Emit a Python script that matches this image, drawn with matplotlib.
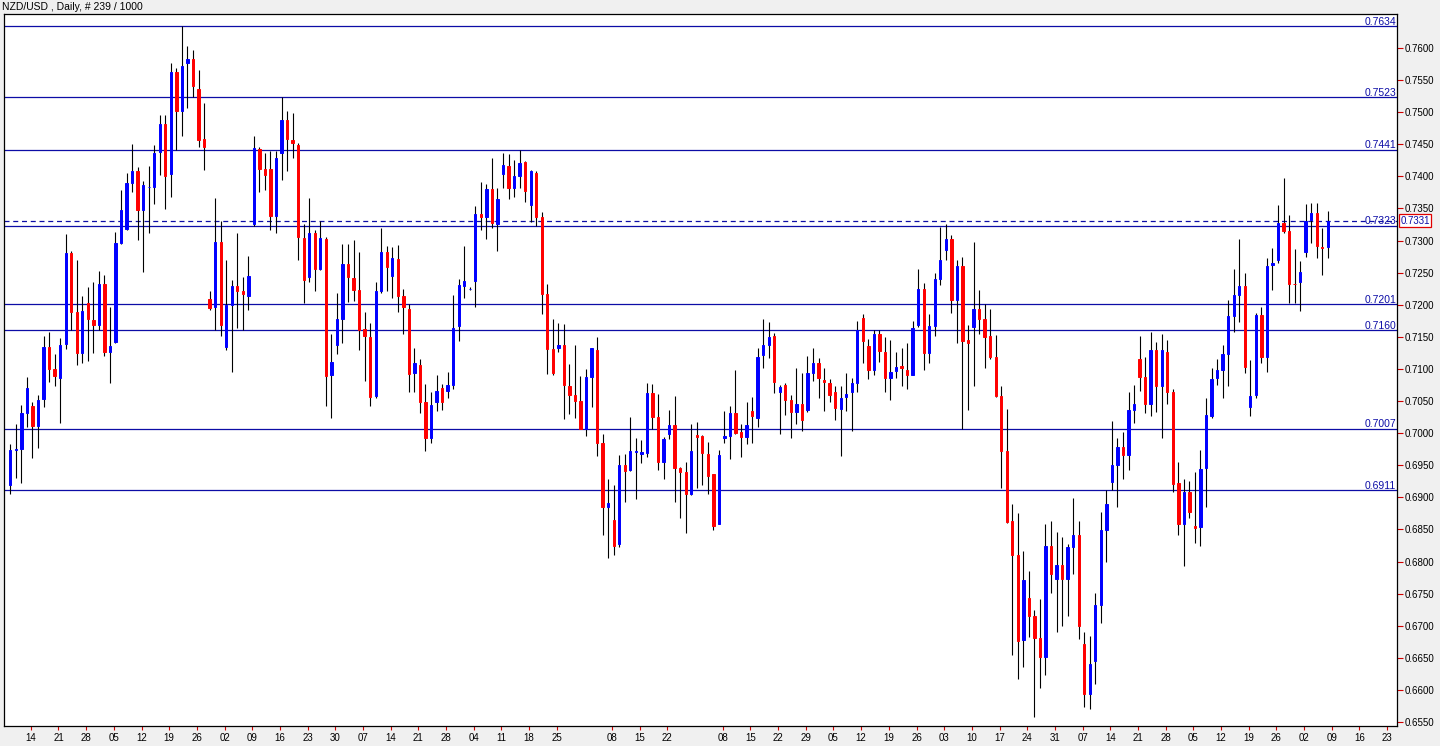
import matplotlib.pyplot as plt
import matplotlib.transforms as mtransforms
import numpy as np

# daily candles (oldest first)
opens = [0.6920, 0.6973, 0.6976, 0.7031, 0.7042, 0.7011, 0.7053, 0.7134, 0.7100, 0.7086,
         0.7139, 0.7280, 0.7188, 0.7125, 0.7203, 0.7176, 0.7168, 0.7232, 0.7127, 0.7142,
         0.7296, 0.7318, 0.7390, 0.7408, 0.7348, 0.7383, 0.7384, 0.7438, 0.7481, 0.7403,
         0.7563, 0.7502, 0.7576, 0.7582, 0.7536, 0.7458, 0.7209, 0.7196, 0.7297, 0.7134,
         0.7200, 0.7229, 0.7221, 0.7214, 0.7326, 0.7442, 0.7412, 0.7412, 0.7338, 0.7436,
         0.7488, 0.7457, 0.7449, 0.7304, 0.7243, 0.7312, 0.7256, 0.7303, 0.7090, 0.7138,
         0.7177, 0.7264, 0.7242, 0.7223, 0.7162, 0.7149, 0.7058, 0.7221, 0.7282, 0.7244,
         0.7271, 0.7213, 0.7194, 0.7094, 0.7106, 0.7048, 0.6992, 0.7048, 0.7070, 0.7066,
         0.7075, 0.7167, 0.7229, 0.7225, 0.7237, 0.7342, 0.7336, 0.7380, 0.7325, 0.7403,
         0.7416, 0.7382, 0.7401, 0.7422, 0.7355, 0.7405, 0.7337, 0.7216, 0.7131, 0.7132,
         0.7138, 0.7074, 0.7059, 0.7050, 0.7007, 0.7087, 0.7130, 0.6985, 0.6885, 0.6864,
         0.6827, 0.6950, 0.6942, 0.6971, 0.6967, 0.6969, 0.7062, 0.7025, 0.6955, 0.6999,
         0.7013, 0.6946, 0.6940, 0.6905, 0.6997, 0.6995, 0.6968, 0.6936, 0.6859, 0.6993,
         0.6996, 0.7032, 0.7002, 0.6994, 0.7035, 0.7024, 0.7121, 0.7137, 0.7151, 0.7064,
         0.7075, 0.7051, 0.7033, 0.7046, 0.7036, 0.7093, 0.7110, 0.7083, 0.7078, 0.7064,
         0.7038, 0.7057, 0.7064, 0.7078, 0.7180, 0.7135, 0.7099, 0.7155, 0.7127, 0.7086,
         0.7097, 0.7104, 0.7099, 0.7091, 0.7169, 0.7224, 0.7125, 0.7167, 0.7240, 0.7285,
         0.7302, 0.7208, 0.7261, 0.7145, 0.7166, 0.7193, 0.7177, 0.7151, 0.7119, 0.7058,
         0.6972, 0.6863, 0.6810, 0.6678, 0.6744, 0.6715, 0.6681, 0.6652, 0.6824, 0.6773,
         0.6795, 0.6773, 0.6822, 0.6841, 0.6672, 0.6594, 0.6645, 0.6732, 0.6849, 0.6924,
         0.6950, 0.6978, 0.6966, 0.7036, 0.7115, 0.7088, 0.7045, 0.7130, 0.7073, 0.7127,
         0.7064, 0.6922, 0.6859, 0.6909, 0.6855, 0.6854, 0.6946, 0.7027, 0.7086, 0.7098,
         0.7123, 0.7183, 0.7215, 0.7229, 0.7041, 0.7059, 0.7184, 0.7118, 0.7262, 0.7270,
         0.7327, 0.7315, 0.7233, 0.7235, 0.7282, 0.7332, 0.7343, 0.7290, 0.7290]
highs = [0.6983, 0.7015, 0.7044, 0.7087, 0.7049, 0.7060, 0.7151, 0.7158, 0.7124, 0.7148,
         0.7310, 0.7283, 0.7270, 0.7214, 0.7227, 0.7236, 0.7253, 0.7246, 0.7196, 0.7313,
         0.7378, 0.7405, 0.7451, 0.7415, 0.7393, 0.7416, 0.7448, 0.7495, 0.7495, 0.7576,
         0.7568, 0.7634, 0.7603, 0.7597, 0.7565, 0.7514, 0.7221, 0.7366, 0.7330, 0.7269,
         0.7239, 0.7311, 0.7243, 0.7276, 0.7462, 0.7446, 0.7437, 0.7440, 0.7440, 0.7523,
         0.7502, 0.7499, 0.7452, 0.7326, 0.7366, 0.7316, 0.7330, 0.7305, 0.7155, 0.7218,
         0.7294, 0.7295, 0.7301, 0.7282, 0.7188, 0.7172, 0.7235, 0.7320, 0.7291, 0.7290,
         0.7293, 0.7225, 0.7201, 0.7132, 0.7115, 0.7076, 0.7064, 0.7090, 0.7076, 0.7095,
         0.7215, 0.7240, 0.7291, 0.7227, 0.7354, 0.7391, 0.7388, 0.7429, 0.7381, 0.7437,
         0.7434, 0.7425, 0.7441, 0.7424, 0.7410, 0.7408, 0.7345, 0.7233, 0.7177, 0.7172,
         0.7170, 0.7107, 0.7138, 0.7089, 0.7100, 0.7133, 0.7149, 0.6998, 0.6929, 0.6919,
         0.6966, 0.6967, 0.7025, 0.6993, 0.6989, 0.7078, 0.7077, 0.7061, 0.6994, 0.7036,
         0.7058, 0.6947, 0.6955, 0.7014, 0.7017, 0.6997, 0.6986, 0.6937, 0.6974, 0.7035,
         0.7042, 0.7098, 0.7015, 0.7048, 0.7056, 0.7132, 0.7177, 0.7173, 0.7156, 0.7075,
         0.7078, 0.7059, 0.7102, 0.7093, 0.7120, 0.7133, 0.7117, 0.7102, 0.7084, 0.7073,
         0.7074, 0.7094, 0.7086, 0.7174, 0.7186, 0.7146, 0.7161, 0.7161, 0.7150, 0.7145,
         0.7127, 0.7133, 0.7141, 0.7174, 0.7256, 0.7234, 0.7185, 0.7250, 0.7321, 0.7325,
         0.7309, 0.7269, 0.7274, 0.7168, 0.7297, 0.7223, 0.7201, 0.7194, 0.7153, 0.7073,
         0.7038, 0.6890, 0.6875, 0.6816, 0.6785, 0.6725, 0.6742, 0.6858, 0.6863, 0.6846,
         0.6838, 0.6828, 0.6899, 0.6863, 0.6690, 0.6684, 0.6751, 0.6877, 0.6911, 0.7019,
         0.6992, 0.7002, 0.7064, 0.7075, 0.7151, 0.7118, 0.7158, 0.7142, 0.7155, 0.7145,
         0.7068, 0.6955, 0.6928, 0.6925, 0.6939, 0.6974, 0.7054, 0.7102, 0.7116, 0.7138,
         0.7207, 0.7255, 0.7303, 0.7250, 0.7114, 0.7187, 0.7196, 0.7272, 0.7289, 0.7355,
         0.7397, 0.7339, 0.7287, 0.7268, 0.7357, 0.7358, 0.7358, 0.7319, 0.7346]
lows = [0.6906, 0.6930, 0.6923, 0.7010, 0.6962, 0.6977, 0.7040, 0.7080, 0.7073, 0.7016,
        0.7131, 0.7161, 0.7106, 0.7110, 0.7113, 0.7125, 0.7160, 0.7120, 0.7078, 0.7141,
        0.7294, 0.7317, 0.7375, 0.7301, 0.7251, 0.7311, 0.7357, 0.7402, 0.7349, 0.7367,
        0.7441, 0.7463, 0.7506, 0.7523, 0.7446, 0.7410, 0.7192, 0.7160, 0.7152, 0.7130,
        0.7095, 0.7164, 0.7160, 0.7192, 0.7323, 0.7375, 0.7378, 0.7317, 0.7312, 0.7394,
        0.7408, 0.7428, 0.7270, 0.7203, 0.7235, 0.7221, 0.7254, 0.7043, 0.7023, 0.7123,
        0.7141, 0.7205, 0.7206, 0.7130, 0.7081, 0.7043, 0.7055, 0.7218, 0.7221, 0.7211,
        0.7188, 0.7155, 0.7064, 0.7064, 0.7032, 0.6972, 0.6984, 0.7035, 0.7036, 0.7055,
        0.7068, 0.7144, 0.7210, 0.7223, 0.7196, 0.7317, 0.7302, 0.7320, 0.7284, 0.7382,
        0.7364, 0.7367, 0.7381, 0.7360, 0.7329, 0.7322, 0.7185, 0.7092, 0.7090, 0.7127,
        0.7022, 0.7030, 0.7023, 0.7006, 0.6995, 0.7041, 0.6964, 0.6841, 0.6806, 0.6811,
        0.6823, 0.6893, 0.6941, 0.6898, 0.6953, 0.6963, 0.7006, 0.6943, 0.6929, 0.6991,
        0.6893, 0.6868, 0.6845, 0.6903, 0.6914, 0.6920, 0.6906, 0.6849, 0.6858, 0.6984,
        0.6959, 0.6998, 0.6963, 0.6983, 0.6984, 0.7010, 0.7101, 0.7117, 0.7063, 0.6999,
        0.7028, 0.6992, 0.7015, 0.7003, 0.7033, 0.7081, 0.7055, 0.7034, 0.7048, 0.7021,
        0.6965, 0.7034, 0.7003, 0.7064, 0.7109, 0.7084, 0.7091, 0.7111, 0.7064, 0.7052,
        0.7086, 0.7073, 0.7068, 0.7090, 0.7166, 0.7098, 0.7109, 0.7151, 0.7231, 0.7269,
        0.7187, 0.7141, 0.7007, 0.7036, 0.7074, 0.7154, 0.7102, 0.7115, 0.7057, 0.6914,
        0.6860, 0.6654, 0.6617, 0.6636, 0.6682, 0.6558, 0.6603, 0.6623, 0.6751, 0.6690,
        0.6699, 0.6716, 0.6781, 0.6680, 0.6573, 0.6571, 0.6610, 0.6704, 0.6799, 0.6911,
        0.6885, 0.6929, 0.6942, 0.7016, 0.7066, 0.7031, 0.7026, 0.7033, 0.6992, 0.7046,
        0.6908, 0.6842, 0.6793, 0.6868, 0.6829, 0.6824, 0.6885, 0.7024, 0.7075, 0.7054,
        0.7074, 0.7157, 0.7173, 0.7093, 0.7027, 0.7054, 0.7109, 0.7095, 0.7223, 0.7265,
        0.7312, 0.7203, 0.7203, 0.7191, 0.7274, 0.7296, 0.7272, 0.7246, 0.7272]
closes = [0.6974, 0.6976, 0.7031, 0.7070, 0.7011, 0.7052, 0.7134, 0.7100, 0.7089, 0.7137,
          0.7280, 0.7188, 0.7125, 0.7190, 0.7177, 0.7168, 0.7232, 0.7127, 0.7135, 0.7296,
          0.7348, 0.7389, 0.7408, 0.7348, 0.7386, 0.7384, 0.7437, 0.7481, 0.7401, 0.7563,
          0.7501, 0.7572, 0.7582, 0.7541, 0.7457, 0.7446, 0.7195, 0.7297, 0.7169, 0.7200,
          0.7229, 0.7222, 0.7216, 0.7245, 0.7444, 0.7412, 0.7402, 0.7338, 0.7428, 0.7488,
          0.7458, 0.7452, 0.7306, 0.7239, 0.7312, 0.7255, 0.7304, 0.7089, 0.7111, 0.7177,
          0.7264, 0.7243, 0.7223, 0.7160, 0.7152, 0.7057, 0.7221, 0.7282, 0.7259, 0.7272,
          0.7213, 0.7196, 0.7092, 0.7109, 0.7048, 0.6992, 0.7044, 0.7065, 0.7049, 0.7075,
          0.7163, 0.7230, 0.7237, 0.7225, 0.7342, 0.7336, 0.7380, 0.7327, 0.7365, 0.7417,
          0.7381, 0.7401, 0.7421, 0.7377, 0.7408, 0.7337, 0.7216, 0.7131, 0.7093, 0.7138,
          0.7075, 0.7059, 0.7050, 0.7007, 0.7087, 0.7132, 0.6985, 0.6885, 0.6892, 0.6824,
          0.6950, 0.6941, 0.6972, 0.6972, 0.6970, 0.7062, 0.7025, 0.6955, 0.6991, 0.7013,
          0.6946, 0.6939, 0.6906, 0.6972, 0.6994, 0.6969, 0.6933, 0.6856, 0.6966, 0.6996,
          0.7032, 0.7000, 0.6994, 0.7012, 0.7026, 0.7119, 0.7137, 0.7149, 0.7080, 0.7072,
          0.7052, 0.7033, 0.7046, 0.7021, 0.7093, 0.7109, 0.7086, 0.7080, 0.7060, 0.7039,
          0.7055, 0.7061, 0.7078, 0.7160, 0.7143, 0.7098, 0.7155, 0.7128, 0.7086, 0.7096,
          0.7103, 0.7102, 0.7091, 0.7164, 0.7224, 0.7125, 0.7167, 0.7240, 0.7270, 0.7302,
          0.7208, 0.7261, 0.7143, 0.7140, 0.7193, 0.7177, 0.7150, 0.7119, 0.7058, 0.6972,
          0.6862, 0.6810, 0.6677, 0.6772, 0.6715, 0.6681, 0.6652, 0.6824, 0.6781, 0.6795,
          0.6773, 0.6823, 0.6841, 0.6699, 0.6594, 0.6641, 0.6732, 0.6849, 0.6890, 0.6950,
          0.6978, 0.6966, 0.7036, 0.7045, 0.7088, 0.7045, 0.7129, 0.7073, 0.7129, 0.7064,
          0.6921, 0.6859, 0.6909, 0.6878, 0.6853, 0.6944, 0.7028, 0.7085, 0.7099, 0.7123,
          0.7183, 0.7215, 0.7229, 0.7103, 0.7058, 0.7184, 0.7118, 0.7261, 0.7265, 0.7327,
          0.7315, 0.7232, 0.7232, 0.7251, 0.7331, 0.7343, 0.7291, 0.7289, 0.7331]

# horizontal support / resistance levels and the current bid
levels = [0.7634, 0.7523, 0.7441, 0.7323, 0.7201, 0.7160, 0.7007, 0.6911]
bid = 0.7331

# weekly date labels along the bottom ('' = no label drawn there)
week_labels = ["14", "21", "28", "05", "12", "19", "26", "02", "09", "16",
               "23", "30", "07", "14", "21", "28", "04", "11", "18", "25",
               "", "08", "15", "22", "", "08", "15", "22", "29", "05",
               "12", "19", "26", "03", "10", "17", "24", "31", "07", "14",
               "21", "28", "05", "12", "19", "26", "02", "09", "16", "23"]

price_ticks = [0.6550, 0.6600, 0.6650, 0.6700, 0.6750, 0.6800, 0.6850, 0.6900,
               0.6950, 0.7000, 0.7050, 0.7100, 0.7150, 0.7200, 0.7250, 0.7300,
               0.7350, 0.7400, 0.7450, 0.7500, 0.7550, 0.7600]

plt.rcParams['font.family'] = ['Liberation Sans', 'DejaVu Sans']
navy = '#0c0ca6'

W, H = 1440, 746
fig = plt.figure(figsize=(W / 100, H / 100), dpi=100, facecolor='#f0f0f0')
ax = fig.add_axes([4 / W, 20 / H, 1393 / W, 712 / H])
ax.set_facecolor('white')

x = np.arange(len(opens))
o = np.array(opens)
c = np.array(closes)
up = c >= o
colors = np.where(up, '#0000ff', '#ff0000')

# wicks then bodies
ax.vlines(x, lows, highs, color='black', lw=0.8, zorder=3)
ax.bar(x, c - o, bottom=o, width=0.42, color=colors, edgecolor=colors,
       linewidth=0.7, zorder=4)

# level lines
lbl_tr = mtransforms.blended_transform_factory(ax.transAxes, ax.transData)
lbl_tr = mtransforms.offset_copy(lbl_tr, fig=fig, x=0, y=1.5, units='dots')
for lv in levels:
    ax.axhline(lv, color=navy, lw=0.9, zorder=2)
    ax.text(0.9993, lv, '%.4f' % lv, transform=lbl_tr, ha='right', va='baseline',
            fontsize=7.5, color=navy, zorder=5)
ax.axhline(bid, color=navy, lw=0.9, ls=(0, (4, 3)), zorder=2)

ax.set_xlim(-1.14, 250.5)
ax.set_ylim(0.65440, 0.76527)

# right price axis
ax.yaxis.tick_right()
ax.set_yticks(price_ticks)
ax.set_yticklabels(['%.4f' % p for p in price_ticks])
ax.tick_params(axis='y', length=4, width=0.8, color='#d00000', labelsize=7,
               labelcolor='black', pad=1.5)

# bottom date axis
tick_pos = [3.7 + 5 * k for k in range(len(week_labels)) if week_labels[k] != ""]
tick_lab = [s for s in week_labels if s != ""]
ax.set_xticks(tick_pos)
ax.set_xticklabels(tick_lab)
ax.tick_params(axis='x', length=3, width=0.8, color='#d00000', labelsize=7,
               labelcolor='black', pad=2)

for sp in ax.spines.values():
    sp.set_color('black')
    sp.set_linewidth(0.9)

# bid price box on the axis
ax.text(1.0025, bid, '0.7331', transform=mtransforms.blended_transform_factory(ax.transAxes, ax.transData),
        ha='left', va='center', fontsize=7, color=navy, clip_on=False,
        bbox=dict(boxstyle='square,pad=0.15', facecolor='white', edgecolor='#e00000', linewidth=0.9))

fig.text(2 / W, 1 - 7 / H, 'NZD/USD , Daily, # 239 / 1000', ha='left', va='center',
         fontsize=7.5, color='black')

plt.savefig('out.png', dpi=100, facecolor=fig.get_facecolor())
plt.close()
